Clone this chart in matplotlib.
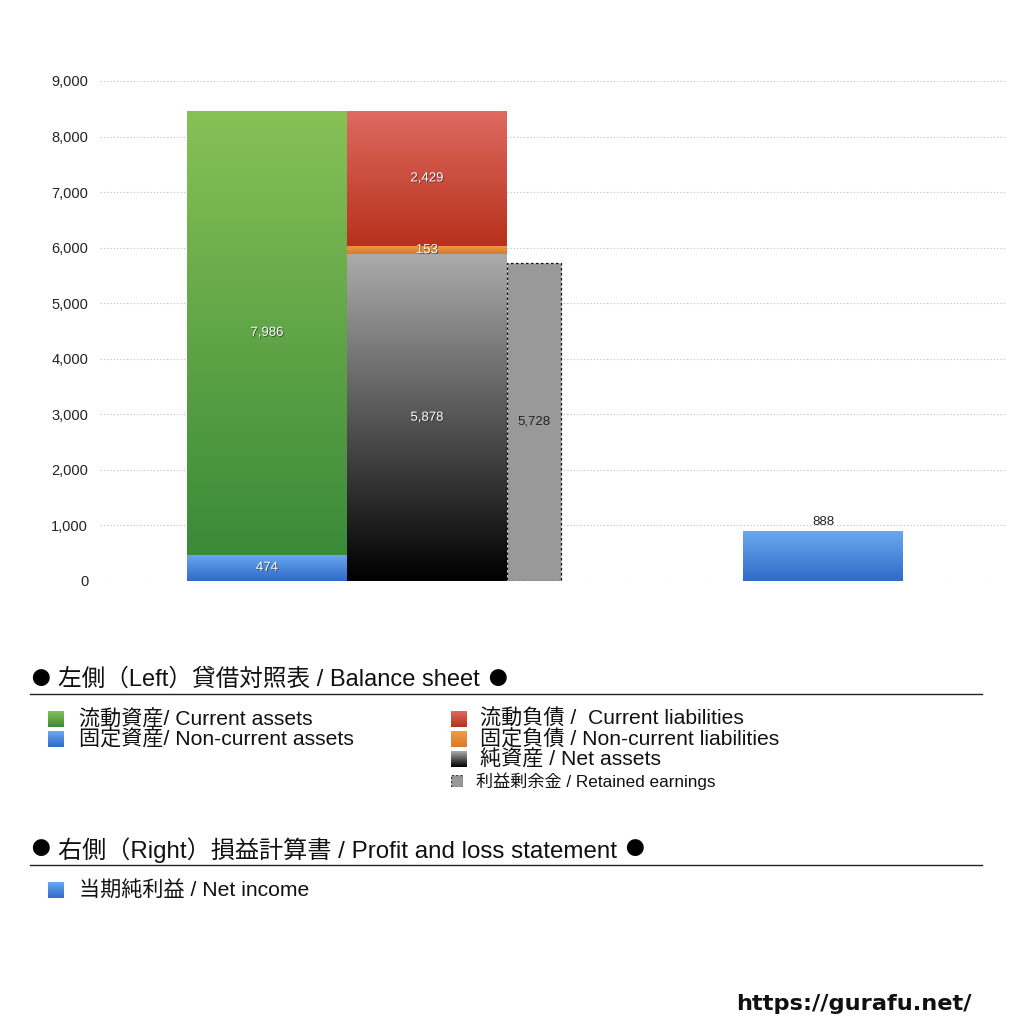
import numpy as np
import matplotlib
matplotlib.use("Agg")
import matplotlib.pyplot as plt
from matplotlib.colors import LinearSegmentedColormap
from matplotlib.patches import Rectangle
import matplotlib.patheffects as pe

plt.rcParams['font.family'] = ['Liberation Sans', 'Noto Sans CJK JP', 'DejaVu Sans']

# ---- data ----
current_assets = 7986
noncurrent_assets = 474
current_liabilities = 2429
noncurrent_liabilities = 153
net_assets = 5878
retained_earnings = 5728
net_income = 888
yticks = [0, 1000, 2000, 3000, 4000, 5000, 6000, 7000, 8000, 9000]

W, H = 1024, 1024
fig = plt.figure(figsize=(W / 100, H / 100), dpi=100)
ax = fig.add_axes([100 / W, 1 - 581 / H, 905 / W, 500 / H])

def grad_cmap(top, bottom):
    return LinearSegmentedColormap.from_list("g", [bottom, top])

grad = np.linspace(0, 1, 256).reshape(-1, 1)

def gbar(ax, x, w, bottom, height, top_c, bot_c, z=2):
    ax.imshow(grad, extent=[x - w / 2, x + w / 2, bottom, bottom + height],
              origin='lower', aspect='auto', cmap=grad_cmap(top_c, bot_c),
              interpolation='bicubic', zorder=z)

GREEN = ('#87c156', '#3a8a38')
BLUE = ('#6aa8f0', '#2f6bc8')
RED = ('#de6a61', '#b7311b')
ORANGE = ('#f19c44', '#d97a2b')
BLACK = ('#ababab', '#000000')

# positions (layout)
xa, xl, xr, xn = 167, 327, 434, 723
wb, wr = 160, 54

gbar(ax, xa, wb, 0, noncurrent_assets, *BLUE)
gbar(ax, xa, wb, noncurrent_assets, current_assets, *GREEN)
gbar(ax, xl, wb, 0, net_assets, *BLACK)
gbar(ax, xl, wb, net_assets, noncurrent_liabilities, *ORANGE)
gbar(ax, xl, wb, net_assets + noncurrent_liabilities, current_liabilities, *RED)
ax.bar(xr, retained_earnings, width=wr, color='#999999', edgecolor='#111111',
       linestyle=(0, (2, 2)), linewidth=0.9, zorder=2)
gbar(ax, xn, wb, 0, net_income, *BLUE)

ax.set_xlim(0, 905)
ax.set_ylim(0, 9000)

shadow = [pe.SimplePatchShadow(offset=(0.6, -0.6), shadow_rgbFace='#222222', alpha=0.7), pe.Normal()]
lblfam = ['Liberation Sans']
def wlabel(x, y, v):
    ax.text(x, y, f"{v:,}", ha='center', va='center', color='white', fontsize=9.5,
            zorder=5, path_effects=shadow, family=lblfam)

wlabel(xa, noncurrent_assets / 2, noncurrent_assets)
wlabel(xa, noncurrent_assets + current_assets / 2, current_assets)
wlabel(xl, net_assets / 2, net_assets)
wlabel(xl, net_assets + noncurrent_liabilities / 2, noncurrent_liabilities)
wlabel(xl, net_assets + noncurrent_liabilities + current_liabilities / 2, current_liabilities)
ax.text(xr, retained_earnings / 2, f"{retained_earnings:,}", ha='center', va='center',
        color='#222222', fontsize=9.5, zorder=5, family=lblfam)
ax.text(xn, net_income + 60, f"{net_income:,}", ha='center', va='bottom',
        color='#222222', fontsize=9.5, zorder=5, family=lblfam)

ax.set_yticks(yticks)
ax.set_yticklabels([f"{t:,}" for t in yticks], fontsize=10.5, color='#222222',
                   family=lblfam)
ax.set_xticks([])
ax.tick_params(axis='y', length=0, pad=8.5)
for s in ax.spines.values():
    s.set_visible(False)
ax.grid(axis='y', color='#bbbbbb', linestyle=(0, (1, 2)), linewidth=0.8, zorder=0)
ax.set_axisbelow(True)

# ---- legend area ----
def fx(px): return px / W
def fy(py): return 1 - py / H

fam = ['Liberation Sans', 'Noto Sans CJK JP', 'DejaVu Sans']
dotfam = ['Noto Sans CJK JP']

renderer = fig.canvas.get_renderer()
def heading(py, txt, size):
    fig.text(fx(31), fy(py), "●", fontsize=13.5, va='center', ha='left', family=dotfam, color='#000000')
    t = fig.text(fx(58), fy(py), txt, fontsize=size, va='center', ha='left', family=fam, color='#111111')
    bb = t.get_window_extent(renderer=renderer)
    fig.text(fx(bb.x1 + 8), fy(py), "●", fontsize=13.5, va='center', ha='left', family=dotfam, color='#000000')

heading(679, "左側（Left）貸借対照表 / Balance sheet", 17)
fig.add_artist(plt.Line2D([fx(30), fx(982)], [fy(694), fy(694)], color='#222222', lw=1))

def legsq(px, py, cols, size=16, dotted=False):
    a = fig.add_axes([fx(px), fy(py + size / 2), size / W, size / H])
    if dotted:
        a.add_patch(Rectangle((0, 0), 1, 1, facecolor='#999999', edgecolor='#333333',
                              linestyle=(0, (1.5, 1.5)), lw=1))
        a.set_xlim(0, 1); a.set_ylim(0, 1)
    else:
        a.imshow(grad, origin='lower', aspect='auto', cmap=grad_cmap(*cols),
                 extent=[0, 1, 0, 1])
    a.axis('off')

items_left = [(GREEN, "流動資産/ Current assets", 719), (BLUE, "固定資産/ Non-current assets", 739)]
for cols, txt, py in items_left:
    legsq(48, py, cols)
    fig.text(fx(79), fy(py), txt, fontsize=15.2, va='center', ha='left', family=fam, color='#111111')

items_right = [(RED, "流動負債 /  Current liabilities", 719),
               (ORANGE, "固定負債 / Non-current liabilities", 739),
               (BLACK, "純資産 / Net assets", 759)]
for cols, txt, py in items_right:
    legsq(451, py, cols)
    fig.text(fx(480), fy(py), txt, fontsize=15.2, va='center', ha='left', family=fam, color='#111111')
legsq(451, 781, None, size=12, dotted=True)
fig.text(fx(476), fy(781), "利益剰余金 / Retained earnings", fontsize=12.3, va='center',
         ha='left', family=fam, color='#111111')

heading(850, "右側（Right）損益計算書 / Profit and loss statement", 17.4)
fig.add_artist(plt.Line2D([fx(30), fx(982)], [fy(865), fy(865)], color='#222222', lw=1))
legsq(48, 890, BLUE)
fig.text(fx(79), fy(890), "当期純利益 / Net income", fontsize=15.2, va='center', ha='left',
         family=fam, color='#111111')

fig.text(fx(972), fy(1004), "https://gurafu.net/", fontsize=16.2, fontweight='bold',
         va='center', ha='right', family=['DejaVu Sans'], color='#111111')

fig.savefig("out.png", dpi=100)
